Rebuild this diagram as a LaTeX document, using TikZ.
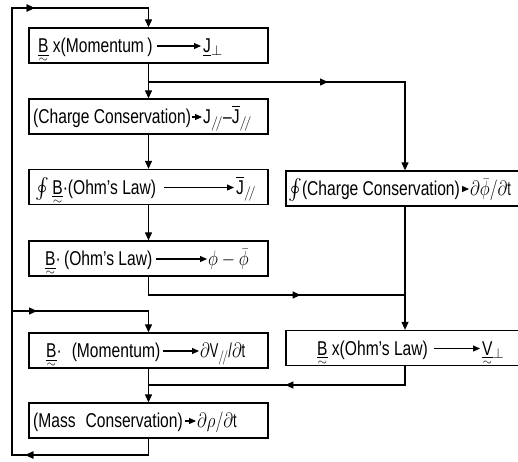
\documentclass[tikz,border=0pt]{standalone}
\usepackage{amsmath}
\usepackage{graphicx}
\usepackage{fontspec}
\setmainfont[FakeStretch=0.78]{Liberation Sans}
\usetikzlibrary{arrows.meta,calc,decorations.markings}

% vector letter: underlined, with a small wave beneath
\newcommand{\wv}[1]{\leavevmode\setbox0=\hbox{#1}%
  \rlap{\hbox to\wd0{\hss\raisebox{-0.5em}{\fontsize{12}{12}\selectfont$\sim$}\hss}}%
  \underline{\box0}}
\newcommand{\para}{$_{/\!/}$}
\newcommand{\barJ}{$\overline{\mbox{J}}$}
% narrower setting for the formula parts
\newcommand{\narrow}[1]{\scalebox{0.82}[1]{#1}}

\begin{document}
\begin{tikzpicture}[x=1pt,y=-1pt,
  box/.style={draw,line width=1.3pt,minimum height=35pt,inner sep=0pt},
  lbox/.style={box,minimum width=239pt},
  rbox/.style={box,minimum width=238pt},
  txt/.style={anchor=base west,inner sep=0pt,font=\fontsize{20}{22}\selectfont},
  flow/.style={line width=1.2pt,line join=miter},
  tip/.style={flow,-{Triangle[length=8pt,width=7pt]}},
  midtip/.style={postaction=decorate,decoration={markings,
      mark=at position #1 with {\arrow{Triangle[length=8pt,width=7pt]}}}},
  intip/.style={line width=1.1pt,-{Triangle[length=7pt,width=6pt]}},
]
\useasboundingbox (0,0) rectangle (518,461);

% ---- boxes, left column
\node[lbox] (b1) at (148.5,45.5) {};
\node[lbox] (b2) at (148.5,116.5) {};
\node[lbox] (b3) at (148.5,187) {};
\node[lbox] (b4) at (148.5,258.5) {};
\node[lbox] (b5) at (148.5,350.5) {};
\node[lbox] (b6) at (148.5,420.5) {};
% ---- boxes, right column
\node[rbox] (r1) at (405,188.5) {};
\node[rbox] (r2) at (405,348) {};

% ---- box contents
\node[txt] (b1l) at (38,52.5) {\wv{B} x(Momentum\,)};
\node[txt] (b1r) at (203,52.5) {\underline{J}$_\perp$};
\draw[intip] ($(b1l.base east)+(4,-6.5)$) -- ($(b1r.base west)+(-2,-6.5)$);

\node[txt] (b2l) at (33,123.5) {(Charge Conservation)};
\node[txt] (b2r) at (203,123.5) {J\para--\barJ\para};
\draw[intip] ($(b2l.base east)+(1,-6.5)$) -- ($(b2r.base west)+(-1,-6.5)$);

\node[txt] (b3l) at (35,194) {$\oint$\,\wv{B}·(Ohm's Law)};
\node[txt] (b3r) at (236,194) {\barJ\para};
\draw[intip] ($(b3l.base east)+(8,-6.5)$) -- ($(b3r.base west)+(-2,-6.5)$);

\node[txt] (b4l) at (45,265.5) {\wv{B}·\,(Ohm's Law)};
\node[txt] (b4r) at (208,265.5) {\narrow{$\phi-\bar{\phi}$}};
\draw[intip] ($(b4l.base east)+(4,-6.5)$) -- ($(b4r.base west)+(-1,-6.5)$);

\node[txt] (b5l) at (46,357.5) {\wv{B}·\enspace(Momentum)};
\node[txt] (b5r) at (200,357.5) {\narrow{$\partial$V\para/$\partial$t}};
\draw[intip] ($(b5l.base east)+(3,-6.5)$) -- ($(b5r.base west)+(-1,-6.5)$);

\node[txt] (b6l) at (33,427.5) {(Mass\enspace Conservation)};
\node[txt] (b6r) at (197,427.5) {\narrow{$\partial\rho/\partial$t}};
\draw[intip] ($(b6l.base east)+(2,-6.5)$) -- ($(b6r.base west)+(-1,-6.5)$);

\node[txt] (r1l) at (288,195.5) {$\oint$(Charge Conservation)};
\node[txt] (r1r) at (470,195.5) {\narrow{$\partial\bar{\phi}/\partial$t}};
\draw[intip] ($(r1l.base east)+(2,-6.5)$) -- ($(r1r.base west)+(-1,-6.5)$);

\node[txt] (r2l) at (317,355) {\wv{B} x(Ohm's Law)};
\node[txt] (r2r) at (482,355) {\wv{V}$_\perp$};
\draw[intip] ($(r2l.base east)+(6,-6.5)$) -- ($(r2r.base west)+(-2,-6.5)$);

% ---- corner and junction points of the connectors
\coordinate (top) at (148.5,8);
\coordinate (tl) at (12,8);
\coordinate (bl) at (12,455);
\coordinate (bb) at (148.5,455);
\coordinate (fork) at (12,311);
\coordinate (forkc) at (148.5,311);
\coordinate (j1) at (148.5,82);
\coordinate (j1r) at (405,82);
\coordinate (j2) at (148.5,295);
\coordinate (j2r) at (405,295);
\coordinate (j3) at (148.5,385);
\coordinate (j3r) at (405,385);

% ---- connectors
\draw[tip,midtip=139.5pt,midtip=622.5pt]
  (b6.south) -- (bb) -- (bl) -- (tl) -- (top) -- (b1.north);
\draw[tip,midtip=25pt] (fork) -- (forkc) -- (b5.north);
\draw[tip] (b1.south) -- (b2.north);
\draw[tip,midtip=179.5pt] (j1) -- (j1r) -- (r1.north);
\draw[tip] (b2.south) -- (b3.north);
\draw[tip] (b3.south) -- (b4.north);
\draw[flow,midtip=170.5pt] (b4.south) -- (j2) -- (j2r);
\draw[tip] (r1.south) -- (r2.north);
\draw[flow,midtip=138.5pt] (r2.south) -- (j3r) -- (j3);
\draw[tip] (b5.south) -- (b6.north);
\end{tikzpicture}
\end{document}
